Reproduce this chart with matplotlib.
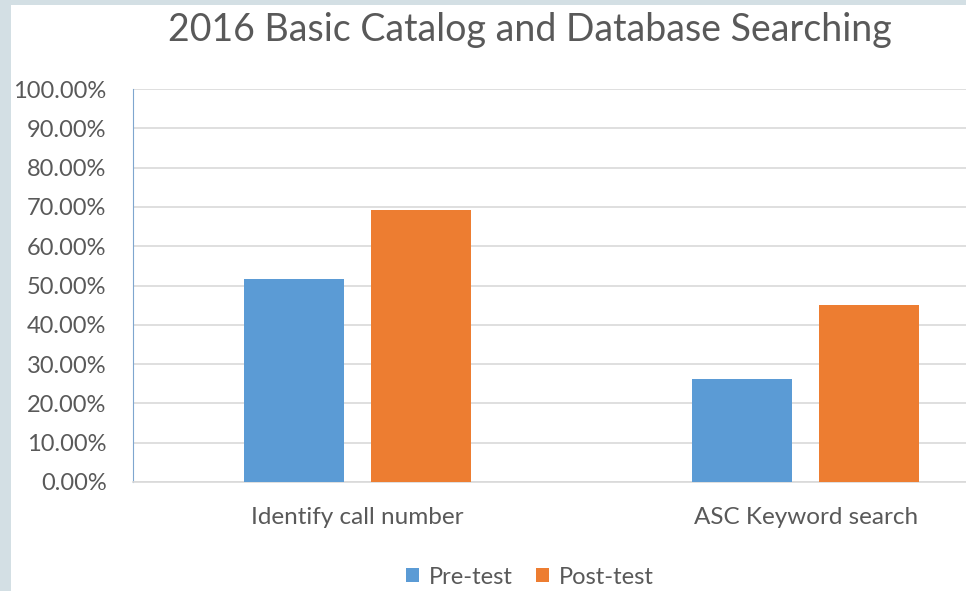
#!/usr/bin/env python3
"""
2016 Basic Catalog and Database Searching - pre/post test bar chart
"""

import matplotlib
matplotlib.use('Agg')
import matplotlib.pyplot as plt
from matplotlib.patches import Rectangle
import numpy as np

plt.rcParams['font.family'] = ['Lato', 'DejaVu Sans']

categories = ["Identify call number", "ASC Keyword search"]
pre_test = [0.517, 0.262]
post_test = [0.692, 0.450]
series_names = ["Pre-test", "Post-test"]
y_ticks = [i / 10 for i in range(11)]

BLUE = "#5B9BD5"
ORANGE = "#ED7D31"
TEXT = "#595959"
GRID = "#D9D9D9"

W, H = 966, 591
fig = plt.figure(figsize=(W / 100, H / 100), dpi=100)
fig.patch.set_facecolor("#D3DFE4")

# white slide area
fig.patches.append(Rectangle((11 / W, 0), 1, 1 - 5 / H, transform=fig.transFigure,
                             facecolor="white", edgecolor="none", zorder=-1))

# plot area runs past the right edge (cropped)
left, right = 133, 1030
top, bottom = 89, 482
ax = fig.add_axes([left / W, 1 - bottom / H, (right - left) / W, (bottom - top) / H])
ax.set_zorder(2)
ax.set_facecolor("none")

x = np.arange(len(categories))
bw = 0.223
off = 0.142
ax.bar(x - off, pre_test, bw, color=BLUE, label=series_names[0], zorder=3)
ax.bar(x + off, post_test, bw, color=ORANGE, label=series_names[1], zorder=3)

ax.set_xlim(-0.5, 1.5)
ax.set_ylim(0, 1)
ax.set_yticks(y_ticks)
ax.set_yticklabels([f"{v * 100:.2f}%" for v in y_ticks])
ax.set_xticks(x)
ax.set_xticklabels(categories)
ax.tick_params(axis='y', length=0, colors=TEXT, labelsize=17, pad=19)
ax.tick_params(axis='x', length=0, colors=TEXT, labelsize=17.5, pad=18)

ax.grid(axis='y', color=GRID, linewidth=1.2, zorder=0)
for s in ["top", "right"]:
    ax.spines[s].set_visible(False)
ax.spines["left"].set_color("#7FA6CF")
ax.spines["bottom"].set_color(GRID)
ax.spines["bottom"].set_linewidth(1.2)

fig.text(530 / W, 1 - 30 / H, "2016 Basic Catalog and Database Searching",
         ha='center', va='center', fontsize=27, color=TEXT)

fig.legend(loc='center', bbox_to_anchor=(530 / W, 1 - 577 / H), ncol=2,
           frameon=False, fontsize=17, labelcolor=TEXT, handlelength=0.55,
           handleheight=0.55, handletextpad=0.4, columnspacing=1.0)

plt.savefig("out.png", dpi=100)
